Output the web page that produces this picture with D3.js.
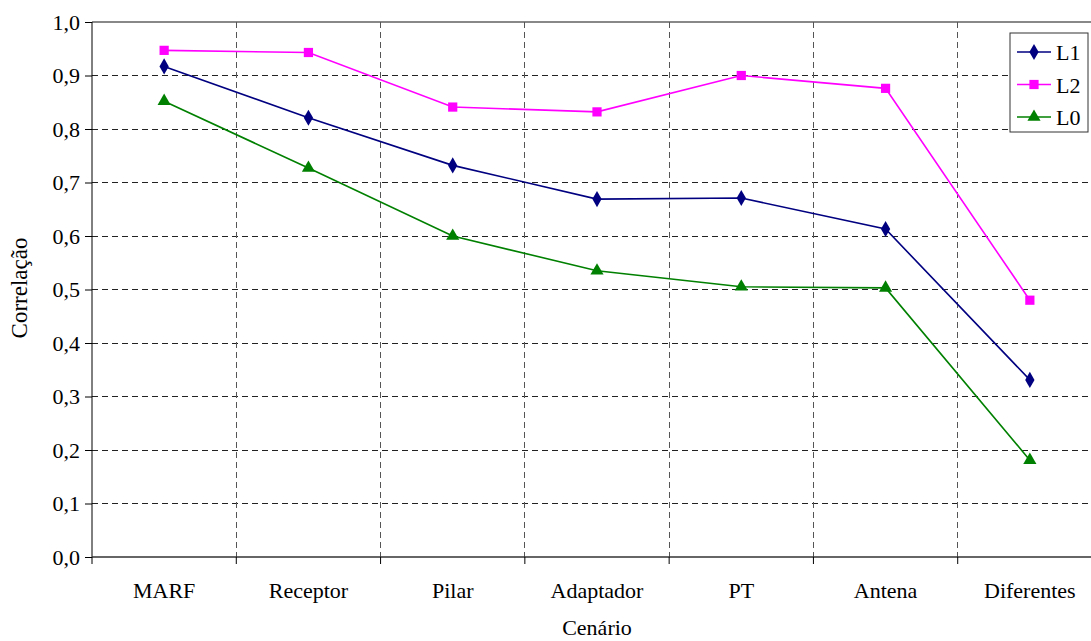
<!DOCTYPE html>
<html>
<head>
<meta charset="utf-8">
<script src="https://cdnjs.cloudflare.com/ajax/libs/d3/7.8.5/d3.min.js"></script>
<style>
  body { margin: 0; background: #fff; }
  svg { font-family: "Liberation Serif", "Times New Roman", serif; }
</style>
</head>
<body>
<svg id="chart" width="1091" height="641"></svg>
<script>
// Chart data
var categories = ["MARF", "Receptor", "Pilar", "Adaptador", "PT", "Antena", "Diferentes"];
var L1 = [0.917, 0.821, 0.732, 0.669, 0.671, 0.613, 0.331];
var L2 = [0.947, 0.943, 0.841, 0.832, 0.900, 0.876, 0.480];
var L0 = [0.852, 0.727, 0.600, 0.535, 0.505, 0.503, 0.181];
var yTicks = [0, 0.1, 0.2, 0.3, 0.4, 0.5, 0.6, 0.7, 0.8, 0.9, 1.0];

var series = [
  {name: "L1", values: L1, color: "#000080", symbol: d3.symbolDiamond, size: 75},
  {name: "L2", values: L2, color: "#ff00ff", symbol: d3.symbolSquare, size: 85},
  {name: "L0", values: L0, color: "#008000", symbol: d3.symbolTriangle, size: 75}
];

var svg = d3.select("#chart");
// plot box (the right edge runs past the window, as in the original)
var pLeft = 92, pTop = 22, pBottom = 557, pRight = 1102;

var x = d3.scaleBand().domain(categories).range([pLeft, pRight]);
var y = d3.scaleLinear().domain([0, 1]).range([pBottom, pTop]);
var fmt = function(d) { return d3.format(".1f")(d).replace(".", ","); };

// horizontal grid (dashed)
svg.append("g").selectAll("line")
  .data(yTicks.slice(1, -1))
  .enter().append("line")
  .attr("x1", pLeft).attr("x2", pRight)
  .attr("y1", function(d) { return y(d); })
  .attr("y2", function(d) { return y(d); })
  .attr("stroke", "#222").attr("stroke-width", 1)
  .attr("stroke-dasharray", "6,4")
  .attr("shape-rendering", "crispEdges");

// top border
svg.append("line")
  .attr("x1", pLeft).attr("x2", pRight)
  .attr("y1", y(1)).attr("y2", y(1))
  .attr("stroke", "#888").attr("stroke-width", 1.5)
  .attr("shape-rendering", "crispEdges");

// vertical grid at band boundaries
svg.append("g").selectAll("line")
  .data(categories.slice(1))
  .enter().append("line")
  .attr("x1", function(d) { return x(d); })
  .attr("x2", function(d) { return x(d); })
  .attr("y1", pTop).attr("y2", pBottom)
  .attr("stroke", "#555").attr("stroke-width", 1)
  .attr("stroke-dasharray", "6,4")
  .attr("shape-rendering", "crispEdges");

// y axis
var yAxis = svg.append("g")
  .attr("transform", "translate(" + pLeft + ",0)")
  .call(d3.axisLeft(y).tickValues(yTicks).tickFormat(fmt).tickSize(7).tickPadding(5));
yAxis.select(".domain").attr("stroke", "#000").attr("d", "M0," + pTop + "V" + pBottom);
yAxis.selectAll(".tick line").attr("stroke", "#000");
yAxis.selectAll("text").attr("font-size", 22).attr("fill", "#000")
  .attr("font-family", "Liberation Serif");

// x axis: ticks at band boundaries, labels centred
var xAxis = svg.append("g").attr("transform", "translate(0," + pBottom + ")");
xAxis.append("line").attr("x1", pLeft).attr("x2", pRight)
  .attr("stroke", "#333").attr("stroke-width", 1.5);
xAxis.selectAll(".bt")
  .data(categories)
  .enter().append("line")
  .attr("class", "bt")
  .attr("x1", function(d) { return x(d); })
  .attr("x2", function(d) { return x(d); })
  .attr("y1", 0).attr("y2", 7)
  .attr("stroke", "#000");
xAxis.selectAll("text")
  .data(categories)
  .enter().append("text")
  .attr("x", function(d) { return x(d) + x.bandwidth() / 2; })
  .attr("y", 41)
  .attr("text-anchor", "middle")
  .attr("font-size", 22)
  .text(function(d) { return d; });

// axis titles
svg.append("text")
  .attr("transform", "translate(27,288) rotate(-90)")
  .attr("text-anchor", "middle").attr("font-size", 23)
  .text("Correlação");
svg.append("text")
  .attr("x", 597).attr("y", 635)
  .attr("text-anchor", "middle").attr("font-size", 22)
  .text("Cenário");

// lines & markers
var line = d3.line()
  .x(function(d, i) { return x(categories[i]) + x.bandwidth() / 2; })
  .y(function(d) { return y(d); });

series.forEach(function(s) {
  svg.append("path")
    .datum(s.values)
    .attr("d", line)
    .attr("fill", "none")
    .attr("stroke", s.color)
    .attr("stroke-width", 1.6);
  svg.append("g").selectAll("path")
    .data(s.values)
    .enter().append("path")
    .attr("transform", function(d, i) {
      return "translate(" + (x(categories[i]) + x.bandwidth() / 2) + "," + y(d) + ")";
    })
    .attr("d", d3.symbol().type(s.symbol).size(s.size))
    .attr("fill", s.color);
});

// legend
var lg = svg.append("g").attr("transform", "translate(1010,33)");
lg.append("rect").attr("width", 78).attr("height", 99)
  .attr("fill", "#fff").attr("stroke", "#333").attr("stroke-width", 1);
series.forEach(function(s, i) {
  var ly = 19 + i * 32.5;
  lg.append("line").attr("x1", 7).attr("x2", 41).attr("y1", ly).attr("y2", ly)
    .attr("stroke", s.color).attr("stroke-width", 1.6);
  lg.append("path").attr("transform", "translate(24," + ly + ")")
    .attr("d", d3.symbol().type(s.symbol).size(s.size)).attr("fill", s.color);
  lg.append("text").attr("x", 46).attr("y", ly + 8)
    .attr("font-size", 22).text(s.name);
});
</script>
</body>
</html>
